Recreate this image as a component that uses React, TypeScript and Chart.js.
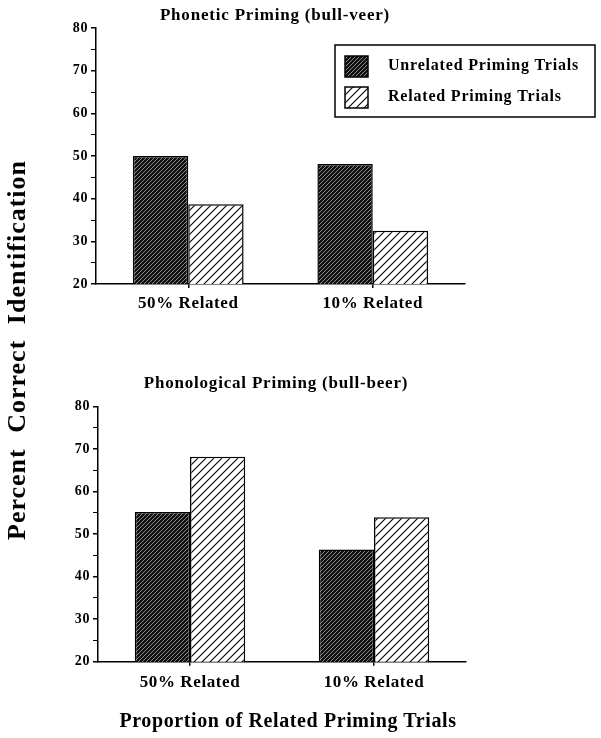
import React, { useEffect, useRef } from "react";
import { Chart, registerables } from "chart.js";
Chart.register(...registerables);

const categories = ["50% Related", "10% Related"];
const seriesNames = ["Unrelated Priming Trials", "Related Priming Trials"];
const phoneticUnrelated = [50.0, 48.1];
const phoneticRelated = [38.7, 32.5];
const phonologicalUnrelated = [55.2, 46.4];
const phonologicalRelated = [68.2, 54.0];
const yTickLabels = [20, 30, 40, 50, 60, 70, 80];
const panelTitles = ["Phonetic Priming (bull-veer)", "Phonological Priming (bull-beer)"];
const yTitle = "Percent Correct Identification";
const xTitle = "Proportion of Related Priming Trials";

const SERIF = '"Liberation Serif", "Times New Roman", Times, serif';

function makePattern(size: number, bg: string, fg: string, lw: number) {
  const c = document.createElement("canvas");
  c.width = size;
  c.height = size;
  const g = c.getContext("2d")!;
  g.fillStyle = bg;
  g.fillRect(0, 0, size, size);
  g.strokeStyle = fg;
  g.lineWidth = lw;
  g.beginPath();
  g.moveTo(-1, size + 1);
  g.lineTo(size + 1, -1);
  g.moveTo(-1, 1);
  g.lineTo(1, -1);
  g.moveTo(size - 1, size + 1);
  g.lineTo(size + 1, size - 1);
  g.stroke();
  return g.createPattern(c, "repeat")!;
}

const spacingPlugin = (sp: string) => ({
  id: "letterSpacing",
  beforeUpdate(chart: any) {
    chart.ctx.letterSpacing = sp;
  },
  beforeDraw(chart: any) {
    chart.ctx.letterSpacing = sp;
  },
});

const boxLegendPlugin = {
  id: "boxLegend",
  afterDraw(chart: any) {
    const ctx = chart.ctx;
    const ds = chart.data.datasets;
    ctx.save();
    ctx.letterSpacing = "0.8px";
    ctx.strokeStyle = "#000";
    ctx.lineWidth = 1.5;
    ctx.strokeRect(335, 45, 260, 72);
    const rows = [56, 87];
    ds.forEach((d: any, i: number) => {
      const y = rows[i];
      ctx.fillStyle = d.backgroundColor;
      ctx.fillRect(345, y, 23, 21);
      ctx.lineWidth = 1.5;
      ctx.strokeRect(345, y, 23, 21);
      ctx.fillStyle = "#000";
      ctx.font = `bold 16px ${SERIF}`;
      ctx.textBaseline = "middle";
      ctx.textAlign = "left";
      ctx.fillText(d.label, 388, y + 9.5);
    });
    ctx.restore();
  },
};

function makeConfig(
  unrelated: number[],
  related: number[],
  dark: CanvasPattern,
  light: CanvasPattern,
  padTop: number,
  padRight: number,
  yWidth: number,
  xHeight: number,
  xPad: number,
  withLegend: boolean
): any {
  const plugins: any[] = [spacingPlugin("0.6px")];
  if (withLegend) plugins.push(boxLegendPlugin);
  return {
    type: "bar",
    data: {
      labels: categories,
      datasets: [
        {
          label: seriesNames[0],
          data: unrelated,
          backgroundColor: dark,
          borderColor: "#000",
          borderWidth: 1.5,
          borderSkipped: false,
          categoryPercentage: 0.6,
          barPercentage: 1,
        },
        {
          label: seriesNames[1],
          data: related,
          backgroundColor: light,
          borderColor: "#000",
          borderWidth: 1.5,
          borderSkipped: false,
          categoryPercentage: 0.6,
          barPercentage: 1,
        },
      ],
    },
    plugins,
    options: {
      animation: false,
      responsive: false,
      maintainAspectRatio: false,
      layout: { padding: { top: padTop, right: padRight, left: 0, bottom: 0 } },
      plugins: {
        legend: { display: false },
        tooltip: { enabled: false },
        title: { display: false },
      },
      scales: {
        x: {
          offset: true,
          grid: {
            display: true,
            drawOnChartArea: false,
            offset: false,
            tickLength: 4,
            color: "#000",
            lineWidth: 1.5,
          },
          border: { display: true, color: "#000", width: 1.5 },
          ticks: {
            color: "#000",
            font: { family: SERIF, size: 17, weight: "bold" },
            padding: xPad,
            maxRotation: 0,
          },
          afterFit: (s: any) => {
            s.height = xHeight;
          },
        },
        y: {
          min: 20,
          max: 80,
          ticks: {
            stepSize: 5,
            autoSkip: false,
            color: "#000",
            font: { family: SERIF, size: 14, weight: "bold" },
            padding: 3,
            callback: (v: any) => (yTickLabels.includes(Number(v)) ? String(v) : ""),
          },
          grid: {
            display: true,
            drawOnChartArea: false,
            tickLength: 5,
            color: "#000",
            lineWidth: (c: any) => (c.tick && c.tick.value % 10 === 0 ? 1.5 : 1),
          },
          border: { display: true, color: "#000", width: 1.5 },
          afterFit: (s: any) => {
            s.width = yWidth;
          },
        },
      },
    },
  };
}

const textBase: React.CSSProperties = {
  position: "absolute",
  fontFamily: SERIF,
  fontWeight: "bold",
  color: "#000",
  whiteSpace: "nowrap",
  lineHeight: 1,
};

export default function App() {
  const topRef = useRef<HTMLCanvasElement>(null);
  const botRef = useRef<HTMLCanvasElement>(null);

  useEffect(() => {
    const dark = makePattern(4, "#111", "#8a8a8a", 1);
    const light = makePattern(8, "#fff", "#000", 1.1);
    const c1 = new Chart(
      topRef.current!,
      makeConfig(phoneticUnrelated, phoneticRelated, dark, light, 28, 136, 96, 46, 5, true)
    );
    const c2 = new Chart(
      botRef.current!,
      makeConfig(phonologicalUnrelated, phonologicalRelated, dark, light, 46.7, 135, 98, 66.3, 7, false)
    );
    return () => {
      c1.destroy();
      c2.destroy();
    };
  }, []);

  return (
    <div style={{ position: "absolute", left: 0, top: 0, width: 601, height: 738, background: "#fff" }}>
      <canvas
        ref={topRef}
        width={601}
        height={330}
        style={{ position: "absolute", left: 0, top: 0, width: 601, height: 330 }}
      />
      <canvas
        ref={botRef}
        width={601}
        height={368}
        style={{ position: "absolute", left: 0, top: 360, width: 601, height: 368 }}
      />
      <div style={{ ...textBase, left: 275, top: 14, fontSize: 17, letterSpacing: "0.8px", transform: "translate(-50%,-50%)" }}>
        {panelTitles[0]}
      </div>
      <div style={{ ...textBase, left: 276, top: 382, fontSize: 17, letterSpacing: "0.8px", transform: "translate(-50%,-50%)" }}>
        {panelTitles[1]}
      </div>
      <div
        style={{
          ...textBase,
          left: 17,
          top: 350,
          fontSize: 26,
          letterSpacing: "1px",
          wordSpacing: "8px",
          transform: "translate(-50%,-50%) rotate(-90deg)",
        }}
      >
        {yTitle}
      </div>
      <div style={{ ...textBase, left: 288, top: 720, fontSize: 20, letterSpacing: "0.6px", transform: "translate(-50%,-50%)" }}>
        {xTitle}
      </div>
    </div>
  );
}
